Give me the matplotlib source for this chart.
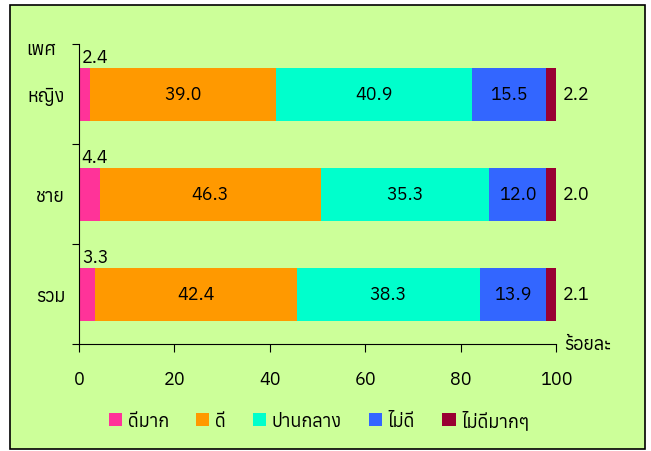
#!/usr/bin/env python3

from __future__ import annotations

import matplotlib

matplotlib.use("Agg")
import matplotlib.pyplot as plt
from matplotlib import font_manager
from matplotlib.ft2font import FT2Font
from matplotlib.patches import Patch, Rectangle


categories = ["หญิง", "ชาย", "รวม"]
levels = ["ดีมาก", "ดี", "ปานกลาง", "ไม่ดี", "ไม่ดีมากๆ"]
very_good = [2.4, 4.4, 3.3]
good = [39.0, 46.3, 42.4]
medium = [40.9, 35.3, 38.3]
bad = [15.5, 12.0, 13.9]
very_bad = [2.2, 2.0, 2.1]
x_ticks = [0, 20, 40, 60, 80, 100]

colors = ["#FF3399", "#FF9900", "#00FFCC", "#3366FF", "#990033"]
FS = 13


def _thai_fonts() -> list[str]:
    # find installed families that carry Thai glyphs
    names = []
    for path in font_manager.findSystemFonts():
        try:
            if 0x0E01 in FT2Font(path).get_charmap():
                names.append(font_manager.FontProperties(fname=path).get_name())
        except Exception:
            continue
    return sorted(set(names))


thai = _thai_fonts()
plt.rcParams["font.family"] = thai[:1] + ["DejaVu Sans"]

fig = plt.figure(figsize=(6.51, 4.52), dpi=100)
fig.patch.set_facecolor("white")
fig.patches.append(
    Rectangle((10 / 651, 2 / 452), 635 / 651, 444 / 452, transform=fig.transFigure,
              facecolor="#CCFF99", edgecolor="black", linewidth=1.2, zorder=-5)
)

ax = fig.add_axes([79 / 651, 1 - 345 / 452, 477 / 651, 300 / 452])
ax.set_facecolor("none")

series = [very_good, good, medium, bad, very_bad]
ys = list(range(len(categories)))
h = 0.53
left = [0.0] * len(categories)
for i, vals in enumerate(series):
    ax.barh(ys, vals, left=left, height=h, color=colors[i], label=levels[i])
    for y, v, l0 in zip(ys, vals, left):
        if i == 0:
            ax.annotate(f"{v:.1f}", (l0, y - h / 2), xytext=(2, 1), textcoords="offset points",
                        ha="left", va="bottom", fontsize=FS)
        elif i == len(series) - 1:
            ax.annotate(f"{v:.1f}", (l0 + v, y), xytext=(5, 0), textcoords="offset points",
                        ha="left", va="center", fontsize=FS)
        else:
            ax.text(l0 + v / 2, y, f"{v:.1f}", ha="center", va="center", fontsize=FS)
    left = [a + b for a, b in zip(left, vals)]

ax.set_xlim(0, 100)
ax.set_ylim(2.5, -0.5)
ax.set_xticks(x_ticks)
ax.tick_params(axis="x", length=6, pad=13, labelsize=FS)
ax.set_yticks([-0.5, 0.5, 1.5, 2.5])
ax.set_yticklabels([])
ax.tick_params(axis="y", which="major", length=5)
ax.set_yticks(ys, minor=True)
ax.set_yticklabels(categories, minor=True, fontsize=FS)
ax.tick_params(axis="y", which="minor", length=0, pad=10)
for s in ("top", "right"):
    ax.spines[s].set_visible(False)

fig.text(41 / 651, 1 - 50 / 452, "เพศ", ha="center", va="center", fontsize=FS)
fig.text(564 / 651, 1 - 345 / 452, "ร้อยละ", ha="left", va="center", fontsize=FS)

handles = [Patch(facecolor=c, label=l) for c, l in zip(colors, levels)]
fig.legend(handles=handles, loc="center", bbox_to_anchor=(0.49, 1 - 421 / 452), ncol=5,
           frameon=False, fontsize=FS, handlelength=0.75, handleheight=0.75,
           handletextpad=0.3, columnspacing=1.5)

fig.savefig("out.png", dpi=100)
